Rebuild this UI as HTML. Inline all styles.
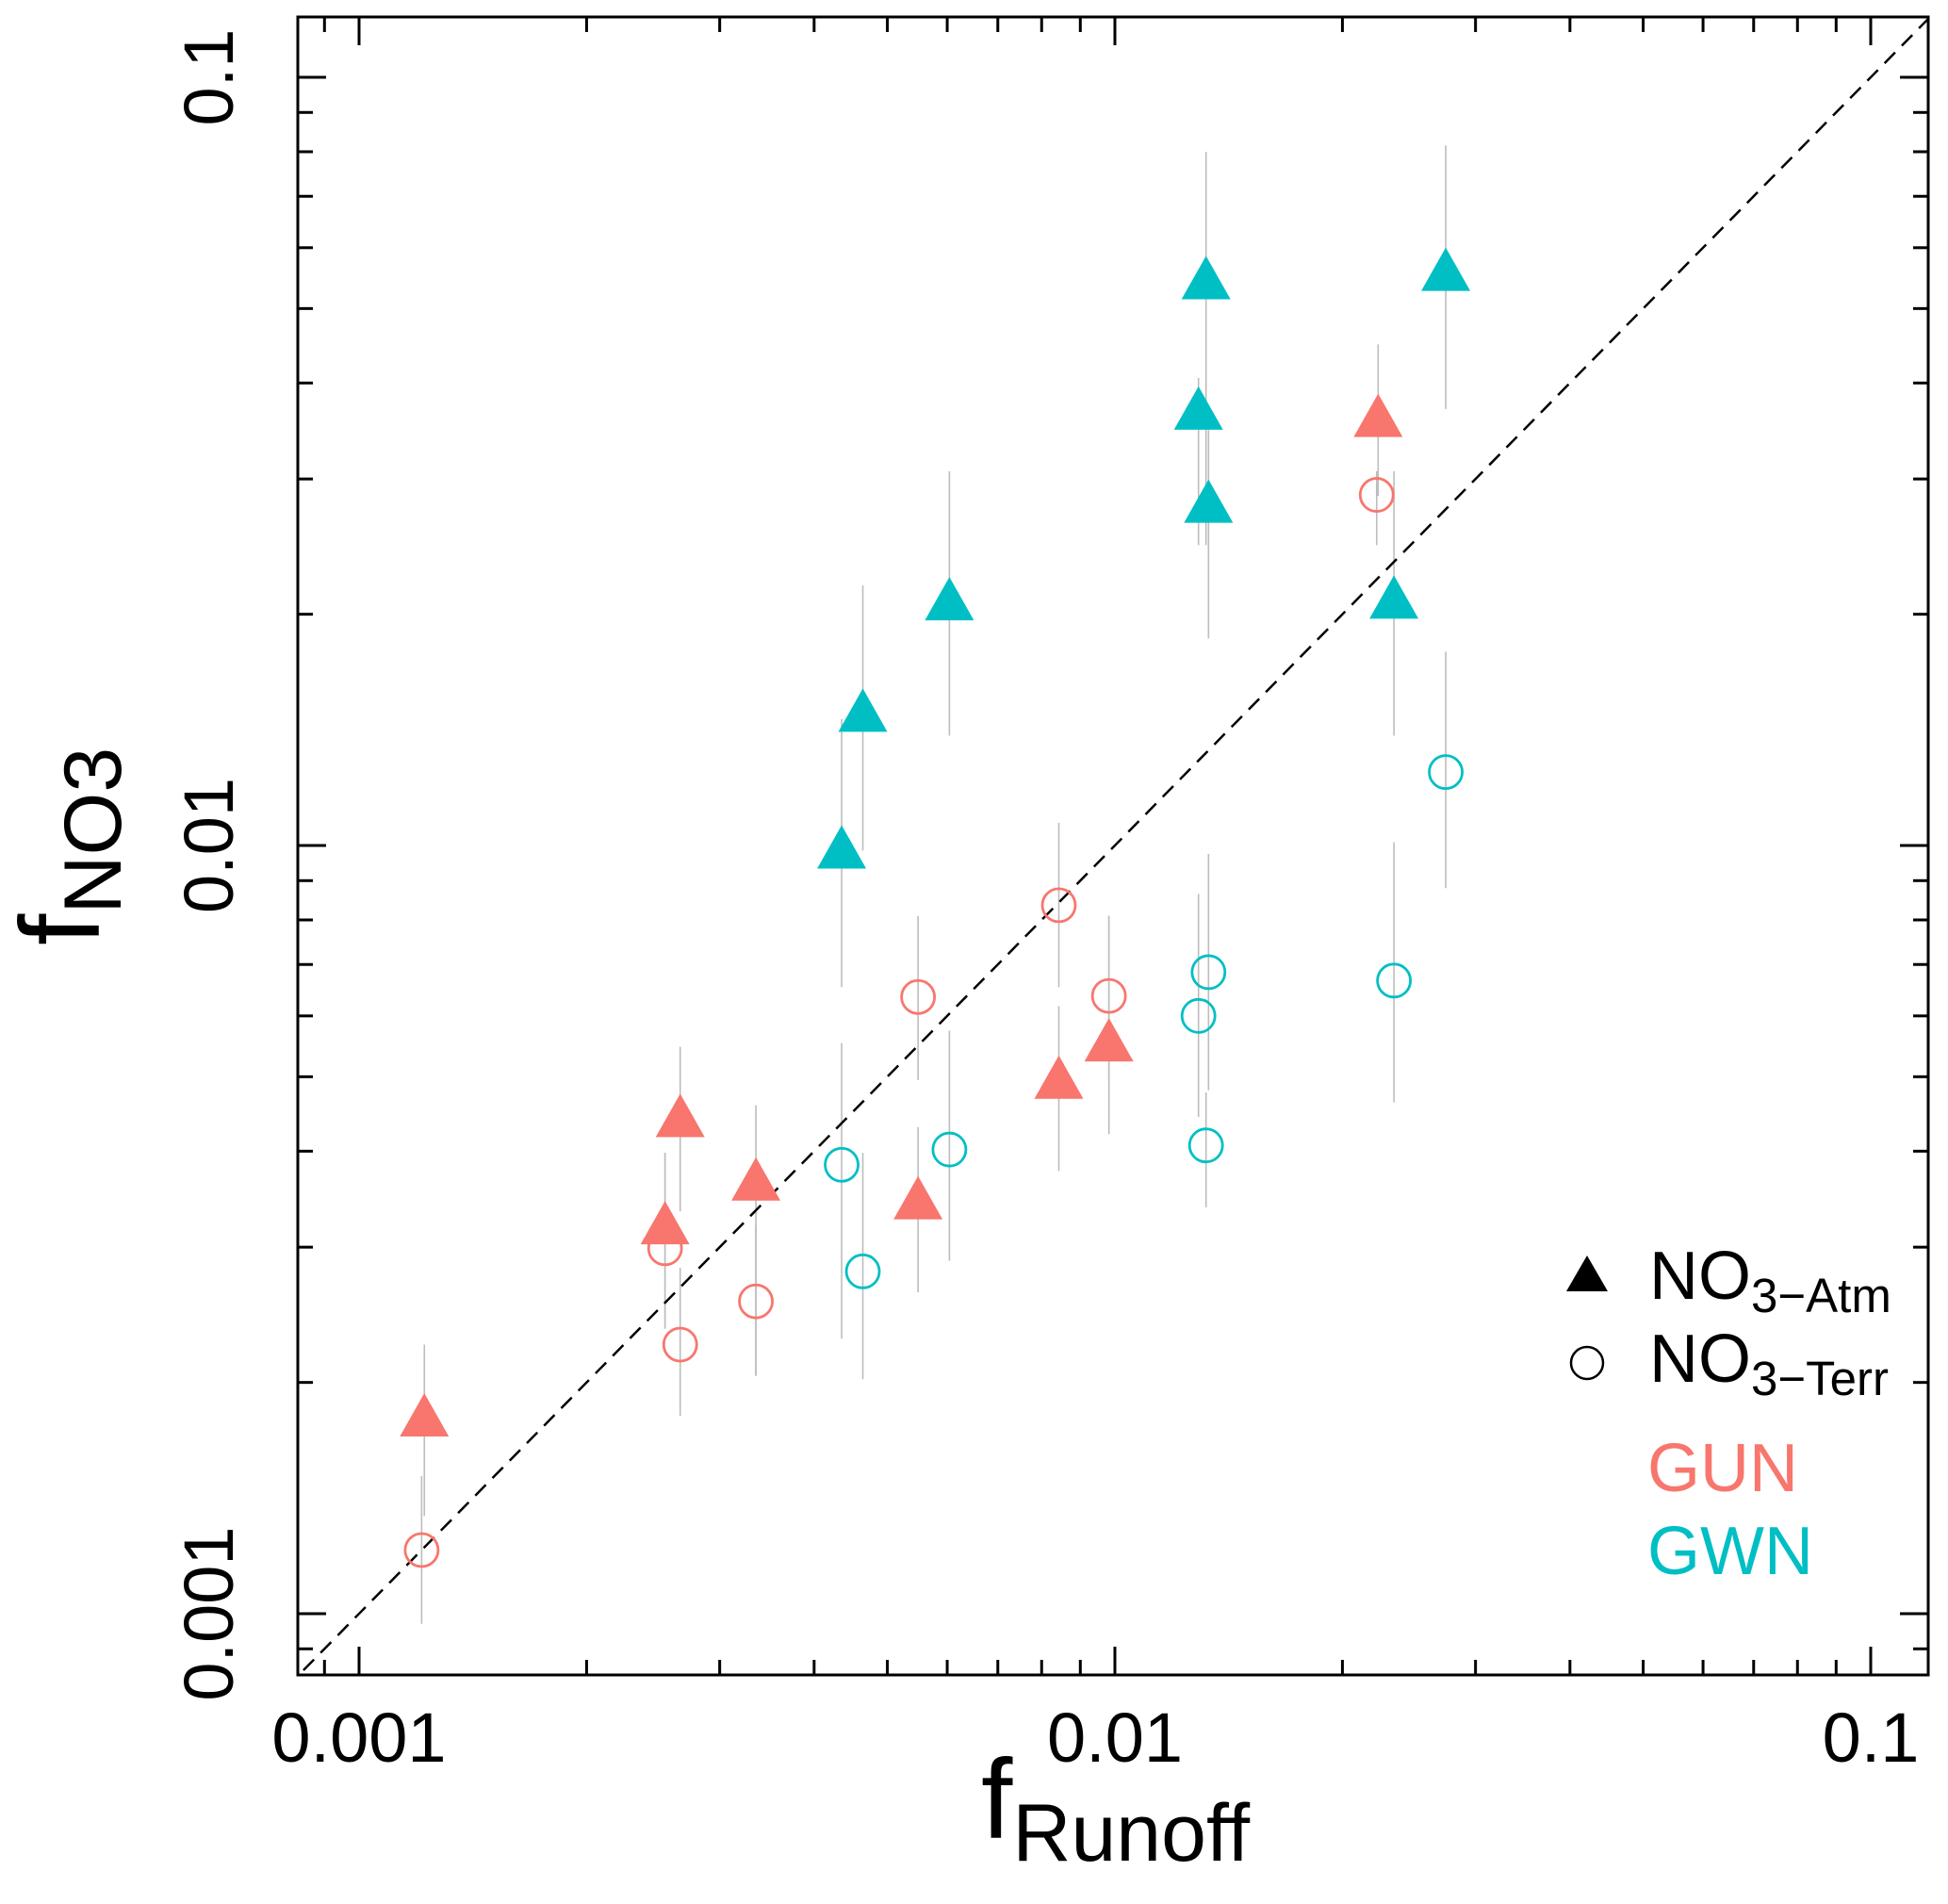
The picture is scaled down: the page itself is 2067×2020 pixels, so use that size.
<!DOCTYPE html>
<html><head><meta charset="utf-8"><style>
html,body{margin:0;padding:0;background:#fff;}
svg{display:block;font-family:"Liberation Sans",Arial,sans-serif;}
</style></head><body>
<svg id="chart" width="2067" height="2020" viewBox="0 0 2067 2020" xmlns="http://www.w3.org/2000/svg">
<defs><clipPath id="plotclip"><rect x="316" y="18" width="1730" height="1759"/></clipPath></defs>
<g id="bars" clip-path="url(#plotclip)"></g>
<g id="diag" clip-path="url(#plotclip)"></g>
<g id="marks"></g>
<g id="axes"></g>
<text x="1041" y="1950" font-size="120">f<tspan font-size="86" dy="24">Runoff</tspan></text>
<text transform="translate(105,1003) rotate(-90)" font-size="120">f<tspan font-size="86" dy="23">NO3</tspan></text>
<g>
<polygon points="1684,1332 1706,1370 1662,1370" fill="#000"/>
<text x="1750" y="1378" font-size="72">NO<tspan font-size="51" dy="14">3−Atm</tspan></text>
<circle cx="1684" cy="1446" r="17" fill="none" stroke="#000" stroke-width="2.5"/>
<text x="1750" y="1466" font-size="72">NO<tspan font-size="51" dy="14">3−Terr</tspan></text>
<text x="1748" y="1582" font-size="72" fill="#F8766D">GUN</text>
<text x="1748" y="1670" font-size="72" fill="#00BFC4">GWN</text>
</g>
</svg>
<script>
// data
const xVals   = [0.0132,0.0274,0.0129,0.0133,0.00604,0.0234,0.00464,0.00435, 0.0223,0.00982,0.00843,0.00266,0.00335,0.00549,0.00254,0.00122, 0.0222,0.00843,0.00982,0.00549,0.00254,0.00335,0.00266,0.00121, 0.0274,0.0133,0.0234,0.0129,0.0132,0.00604,0.00435,0.00464];
const yVals   = [0.0547,0.0561,0.037,0.028,0.0209,0.021,0.01496,0.00993, 0.0362,0.00557,0.00498,0.00444,0.00367,0.00347,0.00322,0.00181, 0.0286,0.00836,0.00637,0.00635,0.00299,0.00255,0.00224,0.00121, 0.01246,0.00684,0.00667,0.0060,0.00407,0.00402,0.00384,0.00279];
const yHigh   = [0.080,0.0815,0.0406,0.0355,0.0307,0.0307,0.0218,0.0146, 0.0449,0.0081,0.00618,0.00547,0.00459,0.0043,0.00398,0.00224, 0.0307,0.0107,0.0081,0.0081,0.00398,0.0032,0.00282,0.00151, 0.01788,0.00975,0.0101,0.00865,0.00477,0.00574,0.00553,0.00398];
const yLow    = [0.0246,0.037,0.0246,0.0186,0.0139,0.0139,0.00985,0.00654, 0.0285,0.00421,0.00377,0.00334,0.00204,0.00262,0.00235,0.00134, 0.0246,0.00654,0.00495,0.00495,0.00235,0.00204,0.00181,0.00097, 0.0088,0.0048,0.00463,0.00443,0.00338,0.00288,0.00228,0.00202];
const shapes  = ["tri","tri","tri","tri","tri","tri","tri","tri", "tri","tri","tri","tri","tri","tri","tri","tri", "circ","circ","circ","circ","circ","circ","circ","circ", "circ","circ","circ","circ","circ","circ","circ","circ"];
const groups  = ["GWN","GWN","GWN","GWN","GWN","GWN","GWN","GWN", "GUN","GUN","GUN","GUN","GUN","GUN","GUN","GUN", "GUN","GUN","GUN","GUN","GUN","GUN","GUN","GUN", "GWN","GWN","GWN","GWN","GWN","GWN","GWN","GWN"];
const xTickLabels = ["0.001","0.01","0.1"];
const yTickLabels = ["0.001","0.01","0.1"];
const tickValues = [0.001,0.01,0.1];

const NS="http://www.w3.org/2000/svg";
const colors={GUN:"#F8766D",GWN:"#00BFC4"};
function sx(v){return 381+(Math.log10(v)+3)*802;}
function sy(v){return 1712-(Math.log10(v)+3)*815;}
function mk(tag,attrs,parent){const e=document.createElementNS(NS,tag);for(const k in attrs)e.setAttribute(k,attrs[k]);parent.appendChild(e);return e;}
const L=316,R=2046,T=18,B=1777;
const axes=document.getElementById('axes');
const frame=mk('rect',{x:L,y:T,width:R-L,height:B-T,fill:'none',stroke:'#000','stroke-width':3},axes);


for(let e=-4;e<=0;e++){for(let m=1;m<=9;m++){const v=m*Math.pow(10,e);const lx=Math.log10(v);
  const len=(m===1)?30:16;
  if(lx>=-3.08&&lx<=-0.925){const x=sx(v);
    const t1=mk('line',{x1:x,y1:B,x2:x,y2:B-len,stroke:'#000','stroke-width':3},axes);
    
    
    const t2=mk('line',{x1:x,y1:T,x2:x,y2:T+len,stroke:'#000','stroke-width':3},axes);
    
    }
  if(lx>=-3.08&&lx<=-0.92){const y=sy(v);
    const t3=mk('line',{x1:L,y1:y,x2:L+len,y2:y,stroke:'#000','stroke-width':3},axes);
    
    
    const t4=mk('line',{x1:R,y1:y,x2:R-len,y2:y,stroke:'#000','stroke-width':3},axes);
    
    }
}}
tickValues.forEach((v,i)=>{
  const tx=mk('text',{x:sx(v),y:1869,'font-size':74,'text-anchor':'middle'},axes);tx.textContent=xTickLabels[i];
  
  
  const ty=mk('text',{transform:`translate(247,${sy(v)}) rotate(-90)`,'font-size':74,'text-anchor':'middle'},axes);ty.textContent=yTickLabels[i];
  
  
});
const dg=mk('line',{x1:sx(0.0005),y1:sy(0.0005),x2:sx(0.2),y2:sy(0.2),stroke:'#000','stroke-width':2.5,'stroke-dasharray':'16,10'},document.getElementById('diag'));


const bars=document.getElementById('bars'),marks=document.getElementById('marks');
xVals.forEach((xv,i)=>{
  const x=sx(xv);
  const b=mk('line',{x1:x,y1:sy(yHigh[i]),x2:x,y2:sy(yLow[i]),stroke:'#bdbdbd','stroke-width':1.6},bars);
  
  
});
xVals.forEach((xv,i)=>{
  const x=sx(xv),y=sy(yVals[i]),c=colors[groups[i]];let p;
  if(shapes[i]==='tri'){
    p=mk('polygon',{points:`${x},${y-24} ${x+26},${y+22} ${x-26},${y+22}`,fill:c},marks);
  }else{
    p=mk('circle',{cx:x,cy:y,r:17.5,fill:'none',stroke:c,'stroke-width':2.8},marks);
  }
  
  
});
</script>
</body></html>
